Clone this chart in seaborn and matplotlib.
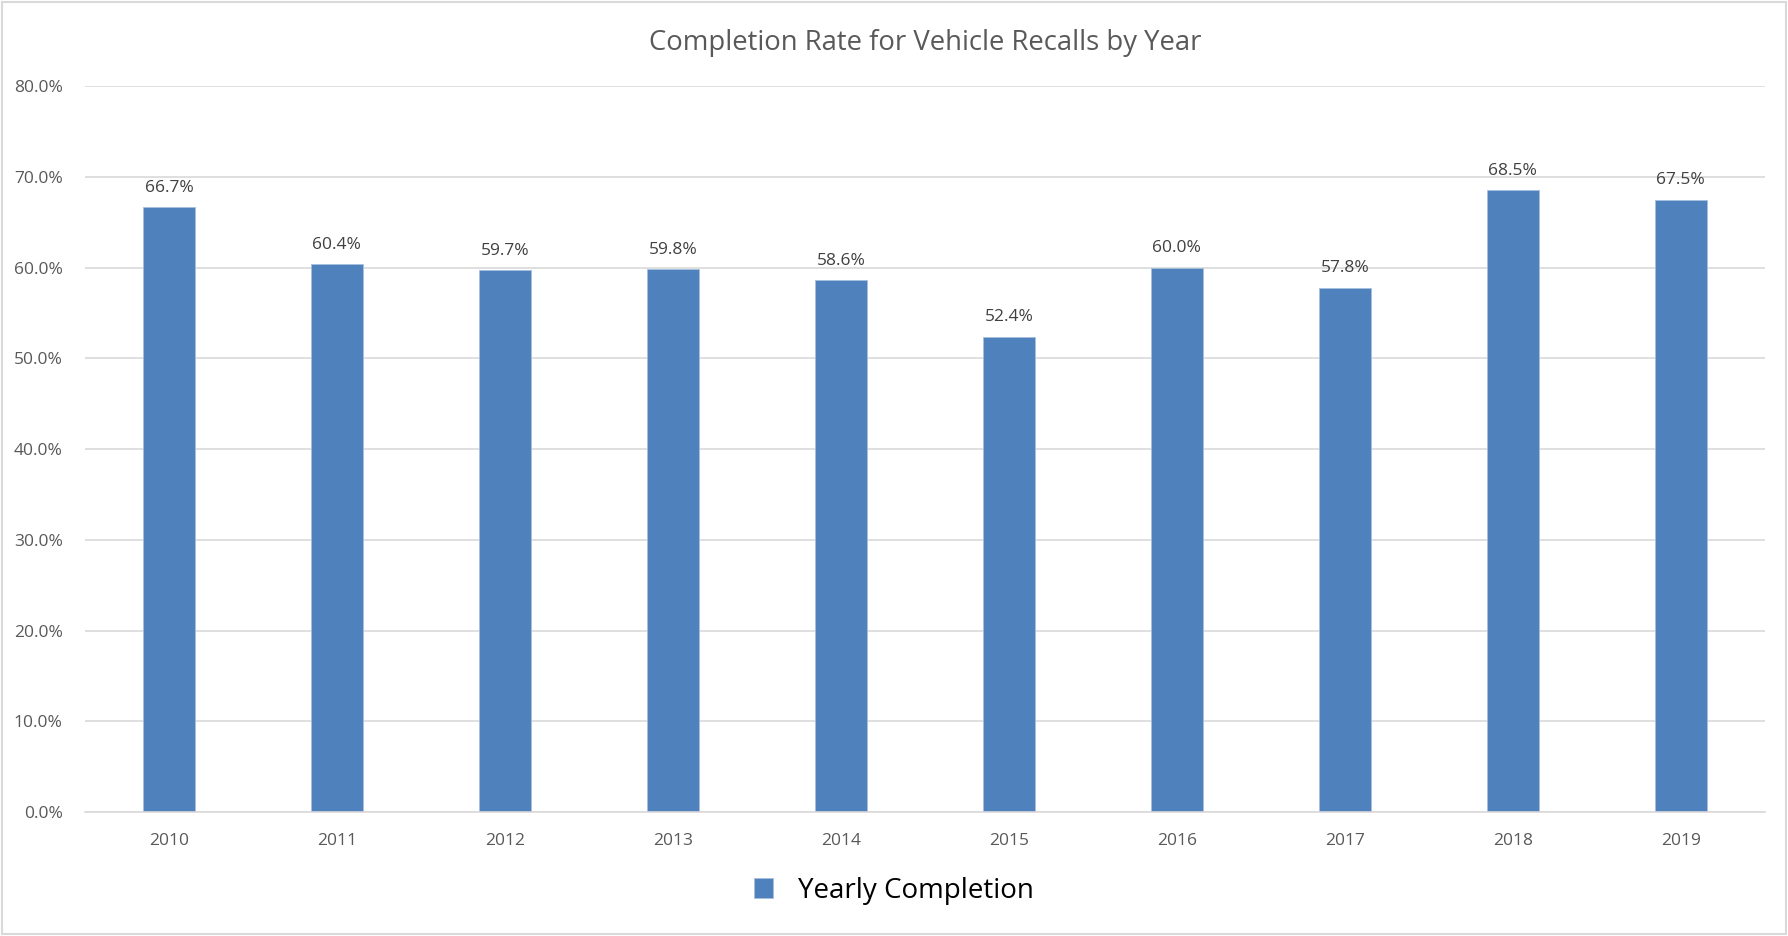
import pandas as pd
import seaborn as sns
import matplotlib.pyplot as plt
from matplotlib.patches import Rectangle
from matplotlib.ticker import PercentFormatter

# values
years = ['2010', '2011', '2012', '2013', '2014', '2015', '2016', '2017', '2018', '2019']
completion = [66.7, 60.4, 59.7, 59.8, 58.6, 52.4, 60.0, 57.8, 68.5, 67.5]
series_name = 'Yearly Completion'

df = pd.DataFrame({'year': years, 'rate': completion, 'series': series_name})

sns.set_theme(style='white')
plt.rcParams['font.family'] = ['Open Sans', 'DejaVu Sans']

bar_color = '#4F81BD'
text_grey = '#595959'
grid_grey = '#D9D9D9'

fig = plt.figure(figsize=(17.88, 9.36), dpi=100)
ax = fig.add_axes([0.0475, 0.1325, 0.9395, 0.7755])

sns.barplot(data=df, x='year', y='rate', hue='series', palette=[bar_color],
            saturation=1, width=0.31, edgecolor='#A7BFDE', linewidth=0.6, ax=ax)

ax.set_ylim(0, 80)
ax.set_yticks(range(0, 81, 10))
ax.yaxis.set_major_formatter(PercentFormatter(decimals=1))
ax.grid(axis='y', color=grid_grey, linewidth=1.2)
ax.set_axisbelow(True)
for side in ['top', 'right', 'left']:
    ax.spines[side].set_visible(False)
ax.spines['bottom'].set_color(grid_grey)
ax.spines['bottom'].set_linewidth(1.2)
ax.tick_params(axis='both', length=0, labelsize=12.5, labelcolor=text_grey)
ax.tick_params(axis='y', pad=16)
ax.tick_params(axis='x', pad=15)
ax.set_xlabel('')
ax.set_ylabel('')

for cont in ax.containers:
    ax.bar_label(cont, fmt='%.1f%%', padding=8, fontsize=12.5, color='#404040')

ax.set_title('Completion Rate for Vehicle Recalls by Year', fontsize=19.8,
             color=text_grey, pad=26)

ax.legend(loc='lower center', bbox_to_anchor=(0.4816, -0.162), frameon=False,
          fontsize=20, handlelength=0.7, handleheight=0.7, handletextpad=0.9,
          labelcolor='black')

# light border around the chart area
fig.patches.append(Rectangle((0.001, 0.002), 0.998, 0.996, transform=fig.transFigure,
                             fill=False, edgecolor=grid_grey, linewidth=1.5))

fig.savefig('out.png', dpi=100)
